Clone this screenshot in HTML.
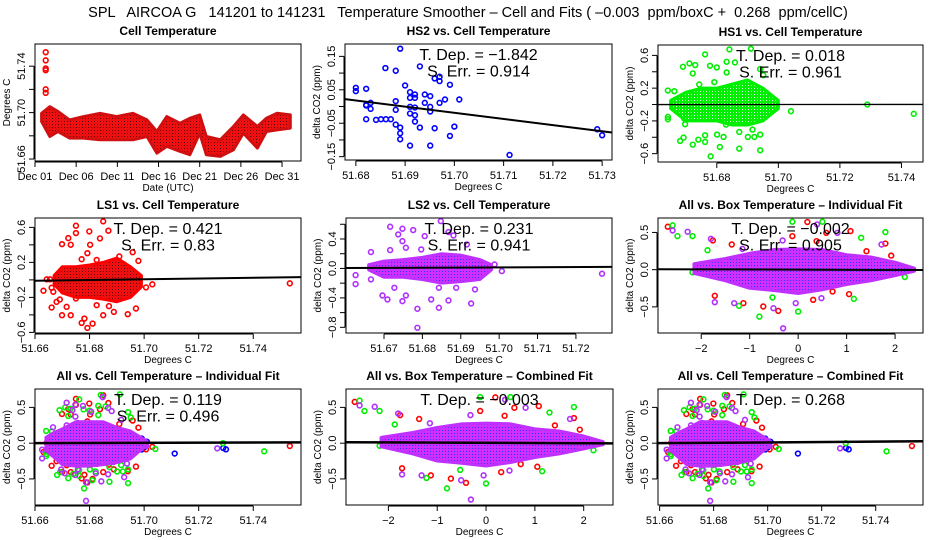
<!DOCTYPE html>
<html><head><meta charset="utf-8">
<style>
html,body{margin:0;padding:0;background:#fff;}
svg{display:block;font-family:"Liberation Sans",sans-serif;}
</style></head>
<body>
<svg id="chart" width="936" height="540" viewBox="0 0 936 540" xmlns="http://www.w3.org/2000/svg">
<defs>
<pattern id="patRed" width="3" height="3" patternUnits="userSpaceOnUse"><rect width="3" height="3" fill="#ee1010"/><rect x="1" y="1" width="1" height="1" fill="#600"/></pattern>
<pattern id="patGreen" width="3" height="3" patternUnits="userSpaceOnUse"><rect width="3" height="3" fill="#00ee00"/><rect x="1" y="1" width="1" height="1" fill="#dfffdf"/></pattern>
<pattern id="patPurple" width="3" height="3" patternUnits="userSpaceOnUse"><rect width="3" height="3" fill="#d030ff"/><rect x="1" y="1" width="1" height="1" fill="#3030ff"/></pattern>
</defs>
<text x="468" y="17" font-size="14.5" text-anchor="middle" xml:space="preserve">SPL   AIRCOA G   141201 to 141231   Temperature Smoother – Cell and Fits ( –0.003  ppm/boxC +  0.268  ppm/cellC)</text>
</svg>
<script>
// ---- Cell temperature time series (day of Dec, band low/high) ----
const cellDay = [1.8,2.8,3.8,5.2,6.9,8.9,10.9,12.9,14.6,15.8,17,18.6,19.8,21,21.8,23.5,25.1,26.3,28,29.1,30.4,32];
const cellLo  = [51.6923,51.6794,51.6837,51.678,51.678,51.6766,51.6766,51.6766,51.6794,51.6651,51.6709,51.6666,51.6637,51.6823,51.6637,51.6623,51.668,51.6823,51.6694,51.6837,51.6851,51.6866];
const cellHi  = [51.6994,51.7051,51.7009,51.6937,51.6966,51.6994,51.6966,51.6994,51.6937,51.6837,51.6966,51.6909,51.6951,51.698,51.6794,51.6766,51.688,51.698,51.688,51.6951,51.6994,51.698];
const spikeDay = [2.3,2.3,2.3,2.3,2.3,2.3];
const spikeVal = [51.752,51.745,51.738,51.7365,51.720,51.717];
const dayTicks = [1,6,11,16,21,26,31];
const dayLabels = ["Dec 01","Dec 06","Dec 11","Dec 16","Dec 21","Dec 26","Dec 31"];

// ---- HS2 (blue) ----
const hs2X = [51.680,51.680,51.6821,51.6821,51.6821,51.6821,51.683,51.683,51.6841,51.6851,51.6861,51.6871,51.686,51.6881,51.6881,51.6881,51.6881,51.689,51.689,51.689,51.689,51.690,51.691,51.691,51.691,51.691,51.691,51.692,51.692,51.692,51.692,51.692,51.693,51.693,51.694,51.694,51.6951,51.6951,51.6951,51.6951,51.696,51.696,51.697,51.697,51.697,51.6981,51.6991,51.6991,51.700,51.701,51.7112,51.729,51.730];
const hs2Y = [0.056,0.046,0.005,0.003,0.053,-0.038,0.011,-0.007,-0.040,-0.038,-0.038,-0.038,0.115,0.107,0.016,-0.010,-0.054,0.173,-0.063,-0.080,-0.098,0.063,0.043,0.026,-0.001,-0.021,-0.117,0.036,0.026,-0.003,-0.026,-0.045,0.120,-0.063,0.036,0.011,0.031,-0.001,-0.015,-0.117,0.084,-0.065,0.089,0.076,0.011,0.021,0.065,-0.088,-0.060,0.021,-0.145,-0.068,-0.086];

// ---- HS1 (green) ----
const hs1X = [51.6762,51.6841,51.6911,51.6711,51.669,51.673,51.6778,51.680,51.6832,51.6859,51.6832,51.6722,51.6792,51.6743,51.6641,51.6662,51.6941,51.6951,51.7041,51.7289,51.744,51.6641,51.6641,51.6681,51.6692,51.6722,51.674,51.6762,51.6762,51.678,51.681,51.6801,51.6822,51.6873,51.6901,51.6922,51.6941,51.6941,51.6873,51.6916,51.683,51.6697,51.6694];
const hs1Y = [0.612,0.673,0.682,0.502,0.461,0.482,0.473,0.453,0.522,0.514,0.392,0.380,0.273,0.245,0.171,0.163,0.433,0.359,-0.082,0.0,-0.114,-0.151,-0.18,-0.445,-0.404,-0.49,-0.429,-0.376,-0.457,-0.633,-0.518,-0.367,-0.396,-0.539,-0.396,-0.396,-0.559,-0.367,-0.335,-0.306,-0.245,-0.241,-0.171];
const hs1CoreX  = [51.665,51.670,51.675,51.680,51.685,51.690,51.695,51.700];
const hs1CoreLo = [-0.05,-0.2,-0.2,-0.2,-0.25,-0.25,-0.2,-0.05];
const hs1CoreHi = [0.05,0.15,0.2,0.2,0.25,0.3,0.2,0.05];

// ---- LS1 (red) ----
const ls1X = [51.6631,51.6643,51.6655,51.6661,51.6661,51.6667,51.6679,51.6691,51.6699,51.6699,51.6722,51.6731,51.6731,51.6716,51.675,51.675,51.6771,51.6771,51.6781,51.6792,51.6799,51.6802,51.6792,51.6811,51.6826,51.6838,51.685,51.6869,51.6871,51.685,51.6889,51.6909,51.694,51.6958,51.697,51.6979,51.7007,51.703,51.7534,51.675,51.6826];
const ls1Y = [-0.124,0.006,0.006,-0.09,-0.316,-0.136,-0.251,-0.224,-0.404,0.408,0.477,0.401,-0.404,-0.308,0.619,0.535,0.236,-0.492,-0.442,-0.549,0.554,0.401,0.305,-0.5,-0.289,0.474,0.669,0.562,-0.3,-0.404,-0.366,0.267,-0.392,0.316,-0.327,0.217,-0.086,-0.051,-0.04,-0.212,0.228];
const ls1CoreX  = [51.667,51.670,51.675,51.680,51.685,51.690,51.695,51.699];
const ls1CoreLo = [-0.05,-0.15,-0.2,-0.2,-0.22,-0.25,-0.2,-0.08];
const ls1CoreHi = [0.05,0.15,0.15,0.17,0.2,0.25,0.15,0.05];

// ---- LS2 (purple) ----
const ls2X = [51.6626,51.6626,51.6666,51.6666,51.6696,51.6709,51.6716,51.6716,51.6737,51.6748,51.6748,51.6757,51.6727,51.6748,51.6757,51.6776,51.6787,51.6787,51.6797,51.6806,51.6823,51.6843,51.6843,51.6848,51.6868,51.6881,51.6868,51.6916,51.6927,51.6937,51.6988,51.7007,51.7268,51.6823,51.6888];
const ls2Y = [-0.091,-0.213,0.222,-0.149,-0.367,-0.421,0.566,0.249,0.462,0.539,0.371,0.281,-0.263,-0.444,-0.367,0.521,-0.548,-0.806,0.258,0.439,-0.421,-0.534,-0.263,0.643,0.494,0.448,-0.435,0.326,-0.476,-0.285,0.054,-0.036,-0.072,-0.113,-0.263];
const ls2CoreX  = [51.666,51.670,51.675,51.680,51.685,51.690,51.695,51.698];
const ls2CoreLo = [-0.02,-0.12,-0.12,-0.15,-0.2,-0.18,-0.15,-0.02];
const ls2CoreHi = [0.05,0.10,0.12,0.15,0.2,0.18,0.12,0.05];

// ---- All cell core ----
const allCellCoreX  = [51.664,51.667,51.670,51.675,51.680,51.685,51.690,51.695,51.698,51.701];
const allCellCoreLo = [-0.1,-0.2,-0.3,-0.32,-0.32,-0.3,-0.27,-0.22,-0.12,-0.03];
const allCellCoreHi = [0.08,0.15,0.2,0.3,0.3,0.3,0.22,0.17,0.1,0.03];

// ---- Box temperature residuals ----
const boxRedX = [-2.69,-1.76,-1.37,-1.13,-1.61,-1.72,-0.72,-0.41,-0.12,0.19,0.38,0.58,0.71,1.08,1.05,1.41,1.8,1.92,0.31,-0.38,1.41,2.3];
const boxRedY = [0.577,0.392,0.338,-0.45,-0.099,-0.351,-0.495,-0.554,0.45,0.64,0.383,0.495,-0.293,0.518,-0.329,0.248,0.351,0.189,-0.405,0.135,-0.113,-0.009];
const boxGreenX = [-2.59,-2.49,-2.18,-1.87,-0.8,-0.12,0.5,1.3,1.15,1.8,0,-1.22,-0.53,0.65,-2.18,2.2];
const boxGreenY = [0.595,0.45,0.45,0.261,-0.631,0.644,0.644,0.428,-0.392,0.505,-0.563,-0.486,-0.374,-0.225,-0.036,-0.099];
const boxPurpleX = [-2.59,-2.28,-1.8,-1.72,-1.32,-0.31,-0.32,0.39,0.81,0.48,1.72,-0.51,2.37,-1.15,-0.05];
const boxPurpleY = [0.527,0.509,0.414,-0.437,-0.45,-0.788,0.392,0.608,0.495,-0.383,0.338,-0.518,0,0.279,-0.45];
const boxBlueX = [-0.89,0.21];
const boxBlueY = [0.158,-0.113];
const boxCoreX  = [-2.15,-1.5,-1,-0.5,0,0.5,1,1.5,2,2.4];
const boxCoreLo = [-0.05,-0.15,-0.25,-0.28,-0.32,-0.27,-0.2,-0.15,-0.08,-0.02];
const boxCoreHi = [0.08,0.15,0.22,0.27,0.28,0.27,0.2,0.17,0.1,0.02];

// ---- Fits: slope and value at reference x ----
const fitSlopes = [-1.842,0.018,0.421,0.231,-0.002,0.119,-0.003,0.268];
const fitRefX   = [51.68,51.68,51.66,51.66,0,51.66,0,51.66];
const fitRefY   = [0.018,0.0,-0.01,0.005,0.0,0.0,0.005,0.0];

const NS="http://www.w3.org/2000/svg";
const svg=document.getElementById('chart');
function el(tag,attrs,parent){const e=document.createElementNS(NS,tag);for(const k in attrs)e.setAttribute(k,attrs[k]);(parent||svg).appendChild(e);return e;}
function scale(p0,p1,d0,d1){return v=>p0+(v-d0)/(d1-d0)*(p1-p0);}

function panel(cfg){
  const g=el('g',{});
  
  
  const [L,T,R,B]=cfg.box;
  const sx=scale(L,R,cfg.x[0],cfg.x[1]), sy=scale(B,T,cfg.y[0],cfg.y[1]);
  const t=el('text',{x:(L+R)/2,y:T-9,'font-size':12,'font-weight':'bold','text-anchor':'middle'},g);
  t.textContent=cfg.title;
  
  
  const xt=cfg.xticks;
  const xa=el('line',{x1:sx(xt[0]),x2:sx(xt[xt.length-1]),y1:B+1,y2:B+1,stroke:'#000'},g);
  
  
  xt.forEach((v,i)=>{
    el('line',{x1:sx(v),x2:sx(v),y1:B+1,y2:B+6,stroke:'#000'},g);
    const lb=el('text',{x:sx(v),y:B+19,'font-size':11,'text-anchor':'middle'},g);
    lb.textContent=cfg.xlabels[i];
    
    
  });
  const xtitle=el('text',{x:(L+R)/2,y:B+30,'font-size':10,'text-anchor':'middle'},g);
  xtitle.textContent=cfg.xtitle;
  
  
  const yt=cfg.yticks;
  const ya=el('line',{x1:L-1,x2:L-1,y1:sy(yt[0]),y2:sy(yt[yt.length-1]),stroke:'#000'},g);
  
  
  yt.forEach((v,i)=>{
    el('line',{x1:L-6,x2:L-1,y1:sy(v),y2:sy(v),stroke:'#000'},g);
    if(cfg.ylabels[i]){
      const lb=el('text',{x:L-10,y:sy(v),'font-size':11,'text-anchor':'middle',transform:`rotate(-90 ${L-10} ${sy(v)})`},g);
      lb.textContent=cfg.ylabels[i];
      
      
    }
  });
  const ytl=el('text',{x:L-25,y:(T+B)/2,'font-size':10,'text-anchor':'middle',transform:`rotate(-90 ${L-25} ${(T+B)/2})`},g);
  ytl.textContent=cfg.ytitle;
  
  
  const cid='clip'+cfg.name;
  const cp=el('clipPath',{id:cid},g);el('rect',{x:L,y:T,width:R-L,height:B-T},cp);
  const pg=el('g',{'clip-path':`url(#${cid})`},g);
  (cfg.series||[]).forEach(s=>{
    s.x.forEach((v,i)=>{
      const c=el('circle',{cx:sx(v),cy:sy(s.y[i]),r:2.4,fill:'none',stroke:s.color,'stroke-width':1.6},pg);
      
      
    });
  });
  (cfg.cores||[]).forEach(c=>{
    let pts=c.x.map((v,i)=>sx(v)+','+sy(c.hi[i]));
    pts=pts.concat(c.x.map((v,i)=>sx(v)+','+sy(c.lo[i])).reverse());
    const p=el('polygon',{points:pts.join(' '),fill:c.fill,stroke:c.stroke,'stroke-width':3,'stroke-linejoin':'round'},pg);
    
    
  });
  if(cfg.fit!==undefined){
    const k=cfg.fit, f=v=>fitRefY[k]+fitSlopes[k]*(v-fitRefX[k]);
    const ln=el('line',{x1:sx(cfg.x[0]),y1:sy(f(cfg.x[0])),x2:sx(cfg.x[1]),y2:sy(f(cfg.x[1])),stroke:'#000','stroke-width':cfg.fitW||2},pg);
    
    
  }
  (cfg.notes||[]).forEach((n,i)=>{
    const tx=el('text',{x:(L+R)/2,y:T+16+i*16.5,'font-size':16,'text-anchor':'middle','xml:space':'preserve'},g);
    tx.textContent=n;
    
    
  });
  const bx=el('rect',{x:L,y:T,width:R-L,height:B-T,fill:'none',stroke:'#000','stroke-width':1},g);
  
  
}

const cellT=[51.66,51.68,51.70,51.72,51.74];
const dC='Degrees C', dCO2='delta CO2 (ppm)';
const rowY3=[-0.5,0,0.5];
const allCellSeries=[
  {x:hs2X,y:hs2Y,color:'#0000ff'},
  {x:ls1X,y:ls1Y,color:'#ff0000'},{x:hs1X,y:hs1Y,color:'#00ee00'},
  {x:ls2X,y:ls2Y,color:'#b030ff'}];
const boxSeries=[
  {x:boxRedX,y:boxRedY,color:'#ff0000'},{x:boxGreenX,y:boxGreenY,color:'#00ee00'},
  {x:boxPurpleX,y:boxPurpleY,color:'#b030ff'},{x:boxBlueX,y:boxBlueY,color:'#0000ff'}];

panel({name:'cell-temperature-panel',title:'Cell Temperature',box:[35,44,301,161],x:[1,33.3],y:[51.6583,51.7591],
  xticks:dayTicks,xlabels:dayLabels,xtitle:'Date (UTC)',
  yticks:cellT,ylabels:['51.66','','51.70','','51.74'],ytitle:'Degrees C',
  cores:[{x:cellDay,lo:cellLo,hi:cellHi,fill:'url(#patRed)',stroke:'#d01010'}],
  series:[{x:spikeDay,y:spikeVal,color:'#ff0000'}]});

panel({name:'hs2-panel',title:'HS2 vs. Cell Temperature',box:[345,44,612,160],x:[51.6778,51.732],y:[-0.160,0.187],
  xticks:[51.68,51.69,51.70,51.71,51.72,51.73],xlabels:['51.68','51.69','51.70','51.71','51.72','51.73'],xtitle:dC,
  yticks:[-0.15,-0.10,-0.05,0,0.05,0.10,0.15],ylabels:['−0.15','','−0.05','','0.05','','0.15'],ytitle:dCO2,
  series:[{x:hs2X,y:hs2Y,color:'#0000ff'}],fit:0,notes:['T. Dep. =  −1.842','S. Err. =  0.914']});

panel({name:'hs1-panel',title:'HS1 vs. Cell Temperature',box:[658,45,923,162],x:[51.6609,51.747],y:[-0.702,0.727],
  xticks:[51.68,51.70,51.72,51.74],xlabels:['51.68','51.70','51.72','51.74'],xtitle:dC,
  yticks:[-0.6,-0.4,-0.2,0,0.2,0.4,0.6],ylabels:['−0.6','','−0.2','','0.2','','0.6'],ytitle:dCO2,
  cores:[{x:hs1CoreX,lo:hs1CoreLo,hi:hs1CoreHi,fill:'url(#patGreen)',stroke:'#00ee00'}],
  series:[{x:hs1X,y:hs1Y,color:'#00ee00'}],fit:1,fitW:1.3,notes:['T. Dep. =  0.018','S. Err. =  0.961']});

panel({name:'ls1-panel',title:'LS1 vs. Cell Temperature',box:[35,218,301,333],x:[51.66,51.7575],y:[-0.607,0.707],
  xticks:cellT,xlabels:['51.66','51.68','51.70','51.72','51.74'],xtitle:dC,
  yticks:[-0.6,-0.4,-0.2,0,0.2,0.4,0.6],ylabels:['−0.6','','−0.2','','0.2','','0.6'],ytitle:dCO2,
  cores:[{x:ls1CoreX,lo:ls1CoreLo,hi:ls1CoreHi,fill:'url(#patRed)',stroke:'#ff0000'}],
  series:[{x:ls1X,y:ls1Y,color:'#ff0000'}],fit:2,notes:['T. Dep. =  0.421','S. Err. =  0.83']});

panel({name:'ls2-panel',title:'LS2 vs. Cell Temperature',box:[346,218,612,333],x:[51.6601,51.7294],y:[-0.877,0.685],
  xticks:[51.67,51.68,51.69,51.70,51.71,51.72],xlabels:['51.67','51.68','51.69','51.70','51.71','51.72'],xtitle:dC,
  yticks:[-0.8,-0.6,-0.4,-0.2,0,0.2,0.4,0.6],ylabels:['−0.8','','−0.4','','0.0','','0.4',''],ytitle:dCO2,
  cores:[{x:ls2CoreX,lo:ls2CoreLo,hi:ls2CoreHi,fill:'url(#patPurple)',stroke:'#c030ff'}],
  series:[{x:ls2X,y:ls2Y,color:'#b030ff'}],fit:3,notes:['T. Dep. =  0.231','S. Err. =  0.941']});

panel({name:'all-box-individual-panel',title:'All vs. Box Temperature – Individual Fit',box:[658,218,923,333],x:[-2.892,2.576],y:[-0.851,0.694],
  xticks:[-2,-1,0,1,2],xlabels:['−2','−1','0','1','2'],xtitle:dC,
  yticks:[-0.5,0,0.5],ylabels:['−0.5','0.0','0.5'],ytitle:dCO2,
  cores:[{x:boxCoreX,lo:boxCoreLo,hi:boxCoreHi,fill:'url(#patPurple)',stroke:'#c030ff'}],
  series:boxSeries,fit:4,notes:['T. Dep. =  −0.002','S. Err. =  0.905']});

panel({name:'all-cell-individual-panel',title:'All vs. Cell Temperature – Individual Fit',box:[35,389,301,505],x:[51.66,51.7575],y:[-0.864,0.757],
  xticks:cellT,xlabels:['51.66','51.68','51.70','51.72','51.74'],xtitle:dC,
  yticks:rowY3,ylabels:['−0.5','0.0','0.5'],ytitle:dCO2,
  cores:[{x:allCellCoreX,lo:allCellCoreLo,hi:allCellCoreHi,fill:'url(#patPurple)',stroke:'#c030ff'}],
  series:allCellSeries,fit:5,fitW:2.5,notes:['T. Dep. =  0.119','S. Err. =  0.496']});

panel({name:'all-box-combined-panel',title:'All vs. Box Temperature – Combined Fit',box:[346,389,613,505],x:[-2.868,2.60],y:[-0.864,0.757],
  xticks:[-2,-1,0,1,2],xlabels:['−2','−1','0','1','2'],xtitle:dC,
  yticks:rowY3,ylabels:['−0.5','0.0','0.5'],ytitle:dCO2,
  cores:[{x:boxCoreX,lo:boxCoreLo,hi:boxCoreHi,fill:'url(#patPurple)',stroke:'#c030ff'}],
  series:boxSeries,fit:6,fitW:2.5,notes:['T. Dep. =  −0.003']});

panel({name:'all-cell-combined-panel',title:'All vs. Cell Temperature – Combined Fit',box:[658,389,923,505],x:[51.6594,51.7575],y:[-0.864,0.757],
  xticks:cellT,xlabels:['51.66','51.68','51.70','51.72','51.74'],xtitle:dC,
  yticks:rowY3,ylabels:['−0.5','0.0','0.5'],ytitle:dCO2,
  cores:[{x:allCellCoreX,lo:allCellCoreLo,hi:allCellCoreHi,fill:'url(#patPurple)',stroke:'#c030ff'}],
  series:allCellSeries,fit:7,fitW:2.5,notes:['T. Dep. =  0.268']});
</script>
</body></html>
